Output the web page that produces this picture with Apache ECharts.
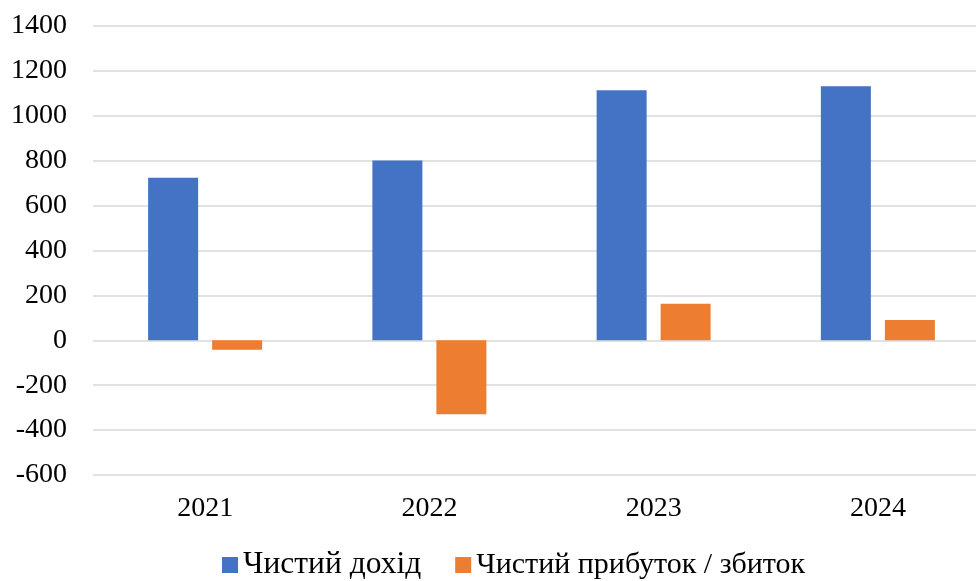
<!DOCTYPE html>
<html>
<head>
<meta charset="utf-8">
<script src="https://cdn.jsdelivr.net/npm/echarts@6/dist/echarts.min.js"></script>
<style>html,body{margin:0;padding:0;background:#fff}#c{width:976px;height:581px}</style>
</head>
<body>
<div id="c"></div>
<script>
const categories = ['2021', '2022', '2023', '2024'];
const revenue = [724, 801, 1114, 1132];
const profit = [-42, -329, 163, 90];
const seriesNames = ['Чистий дохід', 'Чистий прибуток / збиток'];
const yMin = -600, yMax = 1400, yStep = 200;

const font = '"Liberation Serif", "Times New Roman", serif';
const chart = echarts.init(document.getElementById('c'));
chart.setOption({
  animation: false,
  backgroundColor: '#fff',
  legend: {
    data: [
      { name: seriesNames[0], textStyle: { fontSize: 31.5 } },
      { name: seriesNames[1], textStyle: { fontSize: 30 } }
    ],
    bottom: -5,
    left: 217,
    itemWidth: 16, itemHeight: 16,
    itemGap: 34,
    icon: 'rect',
    textStyle: { fontFamily: font, fontSize: 31, color: '#000' }
  },
  grid: { left: 93, top: 26, bottom: 106, width: 897, outerBoundsMode: 'none', containLabel: false },
  xAxis: {
    type: 'category',
    data: categories,
    axisLine: { show: false },
    axisTick: { show: false },
    axisLabel: { fontFamily: font, fontSize: 28, color: '#000', margin: 20 }
  },
  yAxis: {
    type: 'value',
    min: yMin, max: yMax, interval: yStep,
    axisLine: { show: false },
    axisTick: { show: false },
    axisLabel: { fontFamily: font, fontSize: 28, color: '#000', margin: 26, formatter: v => String(v) },
    splitLine: { lineStyle: { color: '#d9d9d9', width: 1.5 } }
  },
  series: [
    { name: seriesNames[0], type: 'bar', data: revenue, barWidth: 50, barGap: '28%',
      itemStyle: { color: '#4472C4' } },
    { name: seriesNames[1], type: 'bar', data: profit, barWidth: 50,
      itemStyle: { color: '#ED7D31' } }
  ]
});
</script>
</body>
</html>
